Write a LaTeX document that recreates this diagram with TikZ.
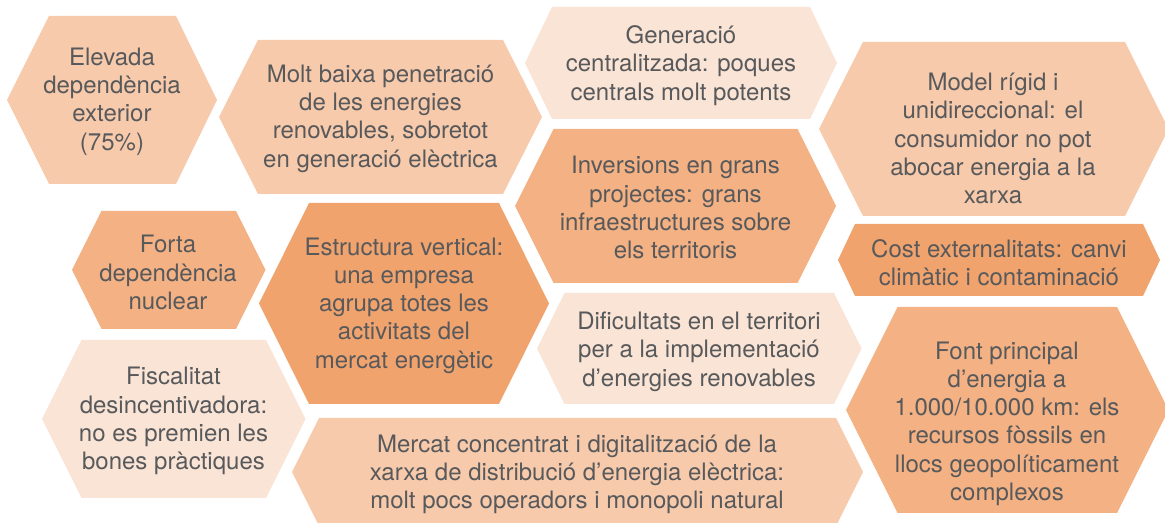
\documentclass[tikz,border=0pt]{standalone}
\usepackage{fontspec}
\setmainfont{TeX Gyre Heros}
\usepackage{tikz}
\usepackage{xcolor}

\definecolor{hexpale}{RGB}{250,228,214}
\definecolor{hexlight}{RGB}{247,202,172}
\definecolor{hexmid}{RGB}{243,177,132}
\definecolor{hexdark}{RGB}{241,163,110}
\definecolor{txtgray}{RGB}{88,89,91}

\begin{document}
\begin{tikzpicture}[x=0.75pt,y=-0.75pt,
   hextext/.style={align=center,inner sep=0pt,text=txtgray,yshift=-1.2pt,
     font=\fontsize{18}{21.2}\selectfont}]
   \useasboundingbox (0,0) rectangle (1165,523);
   % hexagons, left vertex first
   \path[fill=hexlight] (7,100)--++(42,-84)--++(127,0)--++(41,84)--++(-41,84)--++(-127,0)--cycle;
   \path[fill=hexlight] (219,117)--++(39,-77)--++(245,0)--++(39,77)--++(-39,77)--++(-245,0)--cycle;
   \path[fill=hexpale] (525,63)--++(27,-56)--++(258,0)--++(27,56)--++(-27,56)--++(-258,0)--cycle;
   \path[fill=hexlight] (819,129)--++(44,-87)--++(262,0)--++(43.5,87)--++(-43.5,87)--++(-262,0)--cycle;
   \path[fill=hexmid] (515,206)--++(38.5,-77)--++(244,0)--++(38.5,77)--++(-38.5,77)--++(-244,0)--cycle;
   \path[fill=hexmid] (72,270)--++(29.5,-59)--++(134.5,0)--++(29.5,59)--++(-29.5,59)--++(-134.5,0)--cycle;
   \path[fill=hexdark] (259,303.5)--++(50,-100.5)--++(190,0)--++(50,100.5)--++(-50,100.5)--++(-190,0)--cycle;
   \path[fill=hexdark] (838,260)--++(17,-36)--++(288,0)--++(17,36)--++(-17,36)--++(-288,0)--cycle;
   \path[fill=hexpale] (42,419)--++(39.5,-79)--++(184.5,0)--++(39.5,79)--++(-39.5,79)--++(-184.5,0)--cycle;
   \path[fill=hexpale] (537,348.5)--++(27.5,-55.5)--++(269.5,0)--++(27.5,55.5)--++(-27.5,55.5)--++(-269.5,0)--cycle;
   \path[fill=hexmid] (846,410)--++(51.5,-103)--++(219.5,0)--++(51.5,103)--++(-51.5,103)--++(-219.5,0)--cycle;
   \path[fill=hexlight] (292,472)--++(27,-54)--++(517,0)--++(27,54)--++(-27,54)--++(-517,0)--cycle;
   % texts
   \node[hextext] (elevada) at (112,100) {Elevada\\dependència\\exterior\\(75\%)};
   \node[hextext] (baixa) at (380.5,117) {Molt baixa penetració\\de les energies\\renovables, sobretot\\en generació elèctrica};
   \node[hextext] (centralitzada) at (681,64) {Generació\\centralitzada: poques\\centrals molt potents};
   \node[hextext] (rigid) at (993,137) {Model rígid i\\unidireccional: el\\consumidor no pot\\abocar energia a la\\xarxa};
   \node[hextext] (inversions) at (675.5,206) {Inversions en grans\\projectes: grans\\infraestructures sobre\\els territoris};
   \node[hextext] (nuclear) at (168,271) {Forta\\dependència\\nuclear};
   \node[hextext] (vertical) at (404,304) {Estructura vertical:\\una empresa\\agrupa totes les\\activitats del\\mercat energètic};
   \node[hextext] (externalitats) at (999,261) {Cost externalitats: canvi\\climàtic i contaminació};
   \node[hextext] (fiscalitat) at (173.5,419.5) {Fiscalitat\\desincentivadora:\\no es premien les\\bones pràctiques};
   \node[hextext] (dificultats) at (699,350) {Dificultats en el territori\\per a la implementació\\d’energies renovables};
   \node[hextext] (font) at (1007,422) {Font principal\\d’energia a\\1.000/10.000 km: els\\recursos fòssils en\\llocs geopolíticament\\complexos};
   \node[hextext] (mercat) at (577,473) {Mercat concentrat i digitalització de la\\xarxa de distribució d’energia elèctrica:\\molt pocs operadors i monopoli natural};
\end{tikzpicture}
\end{document}
